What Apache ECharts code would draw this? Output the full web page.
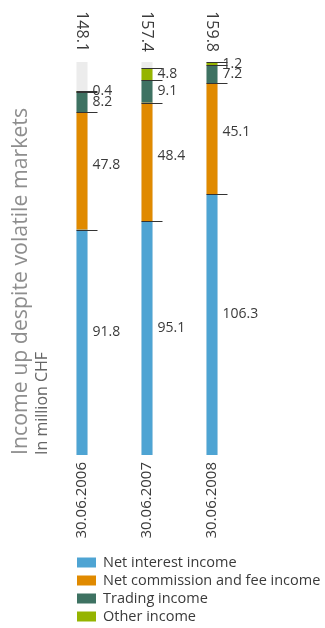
<!DOCTYPE html>
<html>
<head>
<meta charset="utf-8">
<script src="https://cdn.jsdelivr.net/npm/echarts@6/dist/echarts.min.js"></script>
<style>html,body{margin:0;padding:0;background:#fff;}#c{width:325px;height:628px;}</style>
</head>
<body>
<div id="c"></div>
<script>
const categories = ['30.06.2006', '30.06.2007', '30.06.2008'];
const totals = ['148.1', '157.4', '159.8'];
const netInterest = [91.8, 95.1, 106.3];
const netCommission = [47.8, 48.4, 45.1];
const trading = [8.2, 9.1, 7.2];
const other = [0.4, 4.8, 1.2];
const seriesNames = ['Net interest income', 'Net commission and fee income', 'Trading income', 'Other income'];
const colors = ['#4ea4d3', '#e08a00', '#3e7262', '#95b400'];

const FONT = 'Open Sans';
const stackData = [netInterest, netCommission, trading, other];
const labelOffsets = [[0, -10], [0, -6], [0, 0], [0, 0]];

// cumulative tops of each segment for leader lines
const leaderData = [];
categories.forEach((c, i) => {
  let cum = 0;
  stackData.forEach(arr => { cum += arr[i]; leaderData.push([i, cum]); });
});

const chart = echarts.init(document.getElementById('c'), null, {renderer: 'canvas'});
const barSeries = stackData.map((arr, k) => ({
  name: seriesNames[k],
  type: 'bar',
  stack: 'total',
  barWidth: 11,
  data: arr,
  itemStyle: {color: colors[k]},
  showBackground: k === 0,
  backgroundStyle: {color: '#ececec'},
  label: {
    show: true,
    position: 'right',
    distance: 5,
    offset: labelOffsets[k],
    fontFamily: FONT,
    fontSize: 14,
    color: '#3a3a3a'
  },
  z: 2
}));

chart.setOption({
  animation: false,
  textStyle: {fontFamily: FONT},
  grid: {left: 49.5, right: 80.5, top: 62, bottom: 173},
  xAxis: [{
    type: 'category',
    data: categories,
    axisLine: {show: false},
    axisTick: {show: false},
    axisLabel: {rotate: 90, margin: 7, fontFamily: FONT, fontSize: 15, color: '#3a3a3a'}
  }, {
    type: 'category',
    position: 'top',
    data: totals,
    axisLine: {show: false},
    axisTick: {show: false},
    axisLabel: {rotate: 90, margin: 10, fontFamily: FONT, fontSize: 16, color: '#3a3a3a'}
  }],
  yAxis: {type: 'value', min: 0, max: 160, show: false},
  legend: {
    data: seriesNames,
    orient: 'vertical',
    left: 77,
    top: 555,
    padding: 0,
    itemWidth: 19,
    itemHeight: 10,
    itemGap: 3,
    icon: 'rect',
    textStyle: {fontFamily: FONT, fontSize: 14.5, color: '#3a3a3a', lineHeight: 14, padding: [0, 0, 0, 2]}
  },
  graphic: [{
    type: 'text',
    x: 21, y: 455,
    rotation: Math.PI / 2,
    style: {text: 'Income up despite volatile markets', fontFamily: FONT, fontSize: 21.3, fill: '#8e8e8e', textAlign: 'left', textVerticalAlign: 'middle'}
  }, {
    type: 'text',
    x: 42, y: 455,
    rotation: Math.PI / 2,
    style: {text: 'In million CHF', fontFamily: FONT, fontSize: 16, fill: '#666666', textAlign: 'left', textVerticalAlign: 'middle'}
  }],
  series: barSeries.concat([{
    type: 'custom',
    name: 'leaders',
    data: leaderData,
    encode: {x: 0, y: 1},
    z: 5,
    silent: true,
    renderItem: function (params, api) {
      const p = api.coord([api.value(0), api.value(1)]);
      const y = Math.round(p[1]) + 0.5;
      return {
        type: 'line',
        shape: {x1: p[0] - 5.5, y1: y, x2: p[0] + 15.5, y2: y},
        style: {stroke: '#333333', lineWidth: 1}
      };
    }
  }])
});
</script>
</body>
</html>
